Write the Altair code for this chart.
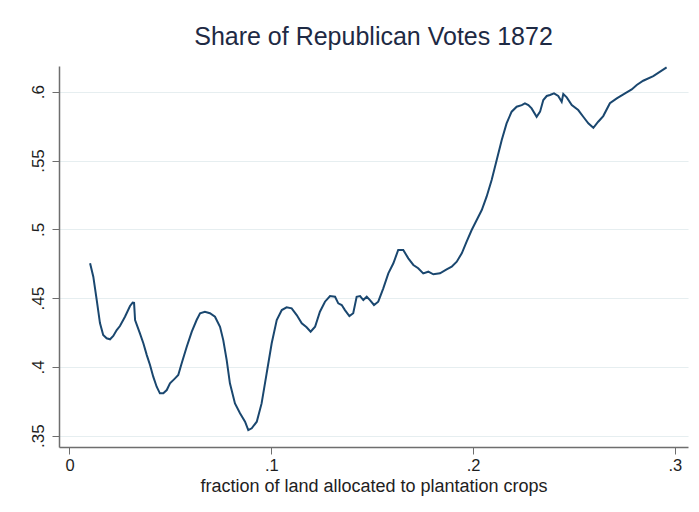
import altair as alt
import pandas as pd

# Smoothed share of Republican votes against plantation-crop land share
frac_land = [
    0.0102, 0.0118, 0.0135, 0.0151, 0.0167, 0.0184, 0.0201, 0.0217, 0.0234, 0.0250,
    0.0275, 0.0300, 0.0313, 0.0320, 0.0325, 0.0349, 0.0366, 0.0383, 0.0399, 0.0415,
    0.0432, 0.0448, 0.0465, 0.0482, 0.0498, 0.0523, 0.0539, 0.0556, 0.0581, 0.0606,
    0.0630, 0.0647, 0.0671, 0.0696, 0.0721, 0.0746, 0.0762, 0.0779, 0.0795, 0.0820,
    0.0845, 0.0870, 0.0886, 0.0903, 0.0928, 0.0952, 0.0977, 0.1002, 0.1027, 0.1052,
    0.1076, 0.1101, 0.1126, 0.1151, 0.1175, 0.1195, 0.1217, 0.1241, 0.1266, 0.1291,
    0.1316, 0.1332, 0.1349, 0.1365, 0.1387, 0.1406, 0.1423, 0.1440, 0.1456, 0.1473,
    0.1489, 0.1509, 0.1530, 0.1555, 0.1580, 0.1605, 0.1629, 0.1654, 0.1679, 0.1704,
    0.1728, 0.1753, 0.1778, 0.1803, 0.1836, 0.1869, 0.1894, 0.1919, 0.1944, 0.1968,
    0.1993, 0.2018, 0.2043, 0.2067, 0.2092, 0.2117, 0.2142, 0.2166, 0.2191, 0.2216,
    0.2241, 0.2257, 0.2274, 0.2290, 0.2315, 0.2332, 0.2348, 0.2365, 0.2381, 0.2401,
    0.2422, 0.2439, 0.2447, 0.2464, 0.2489, 0.2521, 0.2546, 0.2571, 0.2596, 0.2620,
    0.2645, 0.2678, 0.2712, 0.2753, 0.2786, 0.2811, 0.2843, 0.2893, 0.2959,
]
rep_share = [
    0.4753, 0.4656, 0.4486, 0.4319, 0.4232, 0.4208, 0.4201, 0.4225, 0.4268, 0.4297,
    0.4365, 0.4443, 0.4467, 0.4465, 0.4341, 0.4244, 0.4172, 0.4086, 0.4014, 0.3929,
    0.3856, 0.3808, 0.3808, 0.3832, 0.3881, 0.3917, 0.3941, 0.4026, 0.4147, 0.4256,
    0.4341, 0.4390, 0.4401, 0.4390, 0.4365, 0.4292, 0.4195, 0.4050, 0.3881, 0.3735,
    0.3663, 0.3602, 0.3541, 0.3554, 0.3602, 0.3735, 0.3953, 0.4172, 0.4341, 0.4413,
    0.4433, 0.4426, 0.4377, 0.4317, 0.4288, 0.4256, 0.4292, 0.4401, 0.4474, 0.4515,
    0.4510, 0.4462, 0.4450, 0.4413, 0.4370, 0.4390, 0.4510, 0.4515, 0.4486, 0.4510,
    0.4486, 0.4450, 0.4474, 0.4571, 0.4680, 0.4753, 0.4850, 0.4850, 0.4789, 0.4741,
    0.4717, 0.4680, 0.4692, 0.4673, 0.4680, 0.4709, 0.4728, 0.4765, 0.4826, 0.4910,
    0.4995, 0.5068, 0.5140, 0.5237, 0.5358, 0.5504, 0.5649, 0.5770, 0.5855, 0.5891,
    0.5903, 0.5916, 0.5903, 0.5879, 0.5818, 0.5855, 0.5940, 0.5969, 0.5976, 0.5988,
    0.5969, 0.5927, 0.5983, 0.5959, 0.5903, 0.5867, 0.5818, 0.5770, 0.5738, 0.5782,
    0.5823, 0.5916, 0.5952, 0.5988, 0.6017, 0.6049, 0.6080, 0.6114, 0.6177,
]

x_ticks = [0, 0.1, 0.2, 0.3]
y_ticks = [0.35, 0.4, 0.45, 0.5, 0.55, 0.6]

df = pd.DataFrame({"frac": frac_land, "share": rep_share})

FONT = "Liberation Sans"
AXIS_GRAY = "#6e6e6e"
TEXT = "#1e1e1e"
# Stata-style labels: ".1", ".55", "0"
stata_fmt = "datum.value == 0 ? '0' : substring(format(datum.value, '.2~f'), 1)"

line = alt.Chart(df).mark_line(color="#1a476f", strokeWidth=2, interpolate="linear").encode(
    x=alt.X(
        "frac:Q",
        scale=alt.Scale(domain=[-0.0052, 0.3065], nice=False, zero=False),
        axis=alt.Axis(
            title="fraction of land allocated to plantation crops",
            values=x_ticks,
            labelExpr=stata_fmt,
            grid=False,
            tickSize=7,
            tickColor=AXIS_GRAY,
            domainColor=AXIS_GRAY,
            domainWidth=1.5,
            labelFontSize=16.5,
            labelPadding=3,
            labelColor=TEXT,
            titleFontSize=18,
            titleFontWeight="normal",
            titleColor=TEXT,
            titlePadding=4,
        ),
    ),
    y=alt.Y(
        "share:Q",
        scale=alt.Scale(domain=[0.3418, 0.6187], nice=False, zero=False),
        axis=alt.Axis(
            title=None,
            values=y_ticks,
            labelExpr=stata_fmt,
            grid=True,
            gridColor="#e6eef0",
            gridWidth=1.2,
            tickSize=7,
            tickColor=AXIS_GRAY,
            domainColor=AXIS_GRAY,
            domainWidth=1.5,
            labelFontSize=17,
            labelAngle=270,
            labelAlign="center",
            labelBaseline="bottom",
            labelPadding=5,
            labelColor=TEXT,
        ),
    ),
)

chart = line.properties(
    width=629,
    height=381,
    title=alt.TitleParams(
        "Share of Republican Votes 1872",
        fontSize=25,
        font=FONT,
        fontWeight="normal",
        color="#1e2a44",
        anchor="middle",
        offset=13,
    ),
    autosize=alt.AutoSizeParams(type="none"),
    padding={"left": 59, "top": 66, "right": 11, "bottom": 65},
).configure(
    font=FONT,
    background="white",
).configure_view(
    stroke=None,
)

chart.save("out.html", embed_options={"renderer": "svg", "actions": False})
